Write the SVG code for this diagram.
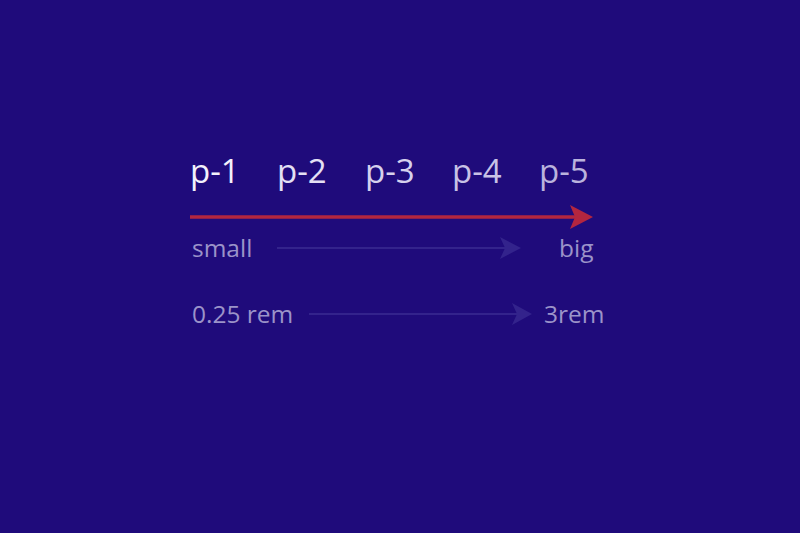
<svg xmlns="http://www.w3.org/2000/svg" width="800" height="533" viewBox="0 0 800 533">
<style>
.p{font-family:"Open Sans","Noto Sans",sans-serif;font-size:33px}
.s{font-family:"Open Sans","Noto Sans",sans-serif;font-size:24.5px;fill:#9b93c9}
.faint{stroke:#33238c;stroke-width:2;fill:none}
</style>
<rect width="800" height="533" fill="#1f0b7b"/>
<g id="labels">
<text class="p" x="190" y="183" fill="#f3f1fb">p-1</text>
<text class="p" x="277" y="183" fill="#e4e0f4">p-2</text>
<text class="p" x="365" y="183" fill="#d6d1ed">p-3</text>
<text class="p" x="452" y="183" fill="#c8c2e6">p-4</text>
<text class="p" x="539" y="183" fill="#bab3dd">p-5</text>
</g>
<g id="connectors">
<line x1="190" y1="217" x2="575" y2="217" stroke="#b3263f" stroke-width="3.5"/>
<polygon points="570,205 593,217 570,229 575,217" fill="#b3263f"/>
<line class="faint" x1="277" y1="248" x2="505" y2="248"/>
<polygon points="500,237 521,248 500,259 505,248" fill="#33238c"/>
<line class="faint" x1="309" y1="314" x2="517" y2="314"/>
<polygon points="512,303 532,314 512,325 517,314" fill="#33238c"/>
</g>
<g id="range-text">
<text class="s" x="192" y="257">small</text>
<text class="s" x="559" y="257">big</text>
<text class="s" x="544" y="323">3rem</text>
<text class="s" x="192" y="323">0.25 rem</text>
</g>
</svg>
